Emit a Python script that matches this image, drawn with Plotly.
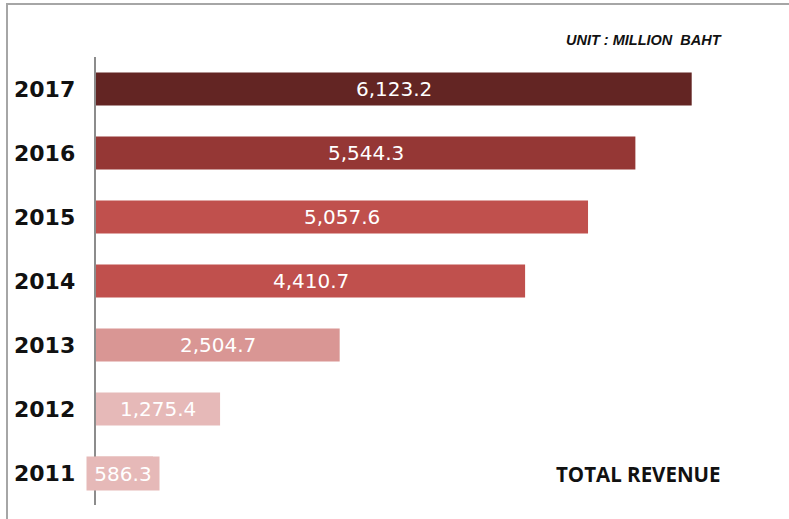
import plotly.graph_objects as go

years = ["2011", "2012", "2013", "2014", "2015", "2016", "2017"]
revenue = [586.3, 1275.4, 2504.7, 4410.7, 5057.6, 5544.3, 6123.2]
bar_colors = ["#E6B9B8", "#E6B9B8", "#D99694", "#C0504D", "#C0504D", "#953735", "#632523"]
value_labels = ["586.3", "1,275.4", "2,504.7", "4,410.7", "5,057.6", "5,544.3", "6,123.2"]

W, H = 789, 519
L, R, T, B = 96, 12, 57, 14
PW = W - L - R
PH = H - T - B

def px(p):
    return (p - L) / PW

def py(p):
    return (H - B - p) / PH

fig = go.Figure()
fig.add_trace(go.Bar(
    y=years, x=revenue, orientation="h",
    marker=dict(color=bar_colors, line=dict(width=0)),
    width=0.515, hoverinfo="skip",
))

annotations = []
for i, (yr, v, lab) in enumerate(zip(years, revenue, value_labels)):
    a = dict(x=v / 2, y=i, xref="x", yref="y", text=lab, showarrow=False,
             xanchor="center", yanchor="middle",
             font=dict(family="DejaVu Sans", size=20, color="#FFFFFF"))
    if yr == "2011":
        a.update(bgcolor="#E6B9B8", width=72, height=33, xshift=-1.5, borderpad=0)
    annotations.append(a)
    annotations.append(dict(x=px(12), y=i, xref="paper", yref="y", text="<b>%s</b>" % yr,
                            xanchor="left", yanchor="middle", showarrow=False,
                            font=dict(family="DejaVu Sans", size=22, color="#111111")))

annotations.append(dict(x=px(724), y=py(40), xref="paper", yref="paper", xanchor="right",
                        yanchor="middle",
                        text="<b><i>UNIT : MILLION  BAHT</i></b>", showarrow=False,
                        font=dict(family="Liberation Sans", size=14.5, color="#111111")))
annotations.append(dict(x=px(554), y=py(474), xref="paper", yref="paper", xanchor="left",
                        yanchor="middle",
                        text="<b>TOTAL REVENUE</b>", showarrow=False,
                        font=dict(family="Open Sans", size=20.5, color="#111111")))

shapes = [
    dict(type="line", xref="paper", yref="paper", x0=px(7), x1=px(7), y0=py(4), y1=py(H + 2),
         line=dict(color="#A6A6A6", width=2)),
    dict(type="line", xref="paper", yref="paper", x0=px(6), x1=px(W + 2), y0=py(4), y1=py(4),
         line=dict(color="#A6A6A6", width=2)),
]

fig.update_layout(
    width=W, height=H,
    margin=dict(l=L, r=R, t=T, b=B),
    paper_bgcolor="white", plot_bgcolor="white",
    showlegend=False,
    xaxis=dict(range=[0, 7000], visible=False, showgrid=False, zeroline=False),
    yaxis=dict(type="category", categoryorder="array", categoryarray=years, range=[-0.5, 6.5],
               showticklabels=False, showgrid=False, zeroline=False,
               showline=True, linecolor="#8C8C8C", linewidth=2, ticks=""),
    annotations=annotations,
    shapes=shapes,
)

fig.write_html("out.html")
